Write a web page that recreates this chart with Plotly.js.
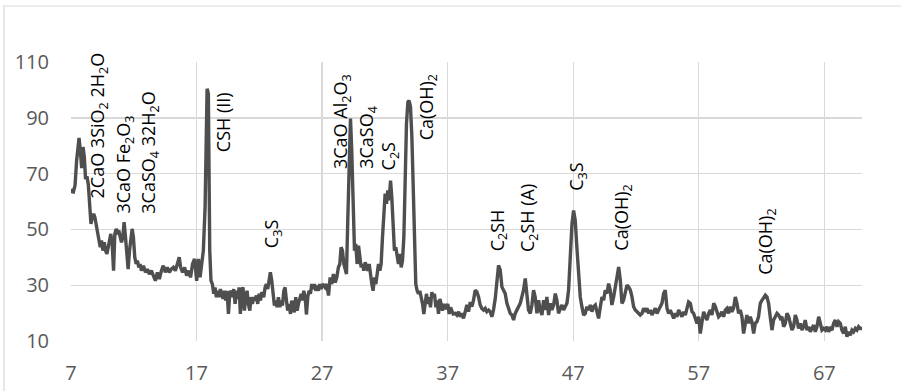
<!DOCTYPE html>
<html>
<head>
<meta charset="utf-8">
<script src="https://cdn.plot.ly/plotly-3.0.1.min.js"></script>
<style>
  html, body { margin: 0; padding: 0; background: #ffffff; }
  #chart { width: 901px; height: 391px; }
</style>
</head>
<body>
<div id="chart"></div>
<script>
// 2-theta (degrees)
var twoTheta = [
  7.00,7.10,7.19,7.32,7.45,7.58,7.64,7.74,7.85,7.96,8.06,8.16,8.27,8.38,8.48,8.59,8.69,8.80,8.90,9.01,
  9.12,9.22,9.33,9.43,9.54,9.65,9.75,9.86,9.96,10.07,10.17,10.28,10.39,10.49,10.60,10.70,10.81,10.92,11.02,11.13,
  11.23,11.34,11.44,11.55,11.66,11.76,11.87,11.97,12.08,12.19,12.29,12.40,12.50,12.61,12.77,12.93,13.08,13.24,13.40,13.56,
  13.72,13.88,14.04,14.20,14.35,14.51,14.67,14.83,14.99,15.15,15.31,15.47,15.62,15.73,15.89,16.05,16.21,16.37,16.52,16.68,
  16.84,
  17.01,17.15,17.28,17.41,17.54,17.68,17.76,17.84,17.94,18.00,18.05,18.15,18.26,18.37,18.47,18.58,18.69,18.79,18.90,19.00,
  19.11,19.22,19.32,19.43,19.54,19.64,19.75,19.85,19.96,20.07,20.17,20.28,20.39,20.49,20.60,20.70,20.81,20.92,21.02,21.13,
  21.24,21.34,21.45,21.55,21.66,21.77,21.87,21.98,22.09,22.19,22.35,22.46,22.56,22.67,22.78,22.88,22.99,23.10,23.20,23.31,
  23.41,23.52,23.63,23.73,23.84,23.95,24.05,24.16,24.26,24.37,24.48,24.58,24.69,24.79,24.90,25.01,25.11,25.22,25.33,25.43,
  25.54,25.65,25.75,25.86,25.96,26.07,26.18,26.28,26.39,26.50,26.60,26.71,26.81,26.92,27.04,
  27.24,27.37,27.51,27.64,27.77,27.90,28.04,28.17,28.30,28.41,28.51,28.62,28.73,28.83,28.94,29.05,29.15,29.26,29.36,29.47,
  29.58,29.68,29.79,29.90,30.00,30.11,30.21,30.32,30.43,30.53,30.64,30.75,30.85,30.96,31.06,31.17,31.28,31.38,31.49,31.60,
  31.70,31.81,31.91,32.02,32.13,32.23,32.34,32.45,32.55,32.66,32.76,32.87,32.98,33.08,33.19,33.30,33.40,33.51,33.61,33.72,
  33.83,33.93,34.04,34.15,34.25,34.36,34.46,34.57,34.68,34.78,34.89,35.00,35.10,35.21,35.31,35.42,35.53,35.63,35.74,35.85,
  35.95,36.06,36.16,36.27,36.38,36.48,36.59,36.70,36.80,36.91,37.01,37.12,37.23,37.33,37.44,
  37.60,37.73,37.87,38.00,38.13,38.26,38.40,38.53,38.66,38.80,38.93,39.06,39.19,39.33,39.46,39.59,39.72,39.86,39.99,40.12,
  40.26,40.39,40.52,40.65,40.79,40.92,41.05,41.19,41.32,41.45,41.58,41.72,41.85,41.98,42.12,42.25,42.38,42.51,42.65,42.78,
  42.91,43.04,43.18,43.31,43.44,43.58,43.71,43.84,43.97,44.11,44.24,44.37,44.51,44.64,44.77,44.90,45.04,45.17,45.30,45.44,
  45.57,45.70,45.83,45.97,46.10,46.23,46.36,46.50,46.63,46.76,46.90,47.03,47.16,47.29,47.43,47.56,47.69,47.83,47.96,
  48.09,48.23,48.36,48.49,48.62,48.76,48.89,49.02,49.16,49.29,49.42,49.55,49.69,49.82,49.95,50.08,50.22,50.35,50.48,50.62,
  50.75,50.88,51.01,51.15,51.28,51.41,51.55,51.68,51.81,51.94,52.08,52.21,52.34,52.48,52.61,52.74,52.87,53.01,53.14,53.27,
  53.40,53.54,53.67,53.80,53.94,54.07,54.20,54.33,54.47,54.60,54.73,54.87,55.00,55.13,55.26,55.40,55.53,55.66,55.80,55.93,
  56.06,56.19,56.33,56.46,56.59,56.73,56.86,56.99,57.12,57.26,57.39,57.52,57.65,57.79,57.92,58.05,58.19,58.32,58.45,58.58,
  58.71,58.84,58.98,59.11,59.24,59.37,59.51,59.64,59.77,59.91,60.04,60.17,60.30,60.44,60.57,60.70,60.83,60.97,61.10,61.23,
  61.37,61.50,61.63,61.76,61.90,62.03,62.16,62.30,62.43,62.56,62.69,62.83,62.96,63.09,63.23,63.36,63.49,63.62,63.76,63.89,
  64.02,64.16,64.29,64.42,64.55,64.69,64.82,64.95,65.09,65.22,65.35,65.48,65.62,65.75,65.88,66.02,66.15,66.28,66.41,66.55,
  66.68,66.81,66.95,67.08,67.21,67.34,67.48,67.61,67.74,67.87,68.01,68.14,68.27,68.40,68.54,68.67,68.80,68.93,69.07,69.20,
  69.33,69.47,69.60,69.73,69.86,70.00
];

// Intensity
var intensity = [
  64.5,63.5,63.4,65.7,74.7,81.9,82.8,78.3,72,79.5,76,68,69,66,57,52,54.4,55.6,54.4,52,
  49.6,47.2,43.6,46,42.4,45.4,42.4,41.2,43.6,46,48.4,44.8,35.2,48.4,50.2,49,49.6,47.2,45.4,47.2,
  52.6,47.2,42.4,35.8,42.4,47.2,50.2,47.2,40,37.6,38.8,36.4,37.6,35.2,37,34.6,35.8,34,35.2,33.4,
  31.6,34.6,32.2,35.2,37,34.6,36.4,34.6,35.8,36.4,35.2,37.6,40,36.4,34.6,36.4,33.4,35.2,32.8,37.6,
  39.4,
  31.6,39.4,32.8,37.6,42.4,58,78.3,100.4,98.6,66.3,42.4,31.6,30.4,26.9,29.2,25.7,28,25.7,28.6,26.9,
  25.1,28,24.5,28,19.7,26.9,28,25.7,28.6,23.3,28,25.1,29.2,19.7,28,29.2,20.9,25.7,28,23.3,
  20.9,25.7,23.3,25.7,24.5,26.3,23.3,26.9,24.5,27.5,25.7,29.2,30.4,28.6,31.6,34.6,31.6,25.7,22.7,24.5,
  22.1,25.7,22.1,24.5,22.7,28,29.2,24.5,20.9,23.3,19.7,24.5,22.1,20.3,25.7,20.9,23.3,25.7,26.9,24.5,
  28,25.7,19.5,25.7,28,26.9,30.4,28.6,30.4,28,29.8,28,30.4,28.6,30.4,
  29.2,30.4,26.3,32.8,30.4,34,31,32.8,36.4,37.6,43.6,42.4,37.6,35.2,34,54.4,78.3,89.7,78.3,54.4,
  42.4,44.8,37.6,44.2,40,36.4,37.6,35.2,38.2,36.4,35.2,37.6,32.8,30.4,28,32.8,30.4,35.2,37.6,35.2,
  37.6,47.2,58,62.8,59.2,64,60.4,67.5,61.6,52,42.4,43.6,40,37.6,41.2,36.4,38.8,47.2,66.3,87.9,
  95.6,96.2,93.9,83.1,66.3,47.2,30.4,28,26.9,28,25.7,23.3,19.7,24.5,26.9,23.3,25.7,22.1,27.5,25.7,
  26.9,22.1,24.5,19.7,25.1,23.3,20.9,23.3,21.5,22.1,23.3,19.7,22.1,20.9,19.7,
  19.9,19.3,20.5,18.7,19.9,18.1,20.5,22.9,20.5,24,22.3,24.6,28.2,27.6,25.8,22.9,21.7,21.1,21.7,20.5,
  21.1,20.5,18.7,21.1,25.2,33,37.1,35.4,29.4,28.2,27,23.5,21.7,19.9,19.3,17.5,19.9,21.1,22.9,23.5,
  25.8,28.2,32.4,27,21.1,19.9,22.9,28.2,25.8,19.9,24.6,21.1,19.3,24.6,21.1,25.8,19.3,23.5,21.1,22.9,
  27,24.6,19.9,21.7,22.9,21.1,22.3,23.5,28.2,40.1,52,56.8,53.2,43.7,33,25.8,22.3,19.3,19.9,
  22.3,21.1,22.9,20.5,22.3,22.9,19.9,18.1,22.3,25.8,24.6,28.2,27,30.6,28.2,22.9,25.8,29.4,33,36.5,
  31.8,23.5,24.6,27,30,29.4,28.2,25.8,22.3,21.1,20.5,19.9,19.3,19.9,21.7,20.5,21.7,19.9,21.1,19.3,
  20.5,21.7,19.9,21.1,22.3,23.5,27,28.2,21.7,19.9,21.1,19.3,18.1,19.9,18.7,21.1,19.9,18.7,20.5,19.3,
  21.7,24,23.5,20.5,19.9,17.5,16.3,18.7,12.7,16.9,20.5,18.7,17.5,19.9,21.1,19.3,23.5,22.3,19.9,18.7,
  19.3,20.5,18.7,21.1,21.7,19.9,22.3,20.5,21.7,25.8,23.5,19.9,21.1,18.7,12.7,16.9,19.3,16.3,18.7,16.9,
  12.7,16.3,16.9,18.7,23.5,24.6,25.8,26.4,25.8,23.5,18.7,13.9,17.5,18.7,19.9,19.3,18.1,18.7,15.1,16.3,
  19.9,18.7,16.3,13.9,15.1,19.3,17.5,14.5,16.3,13.9,15.1,17.5,13.9,15.1,13.3,14.5,15.7,13.3,15.1,18.7,
  15.7,13.9,14.5,13.9,15.1,13.3,14.5,13.9,16.3,17.5,15.1,16.9,16.3,13.9,12.7,15.1,11.5,13.3,12.1,13.9,
  13.3,14.5,13.9,15.1,14.5,14.5
];

// Phase labels and where they sit (2-theta, intensity at label bottom)
var phaseLabels = [
  "2CaO 3SiO<sub>2</sub> 2H<sub>2</sub>O",
  "3CaO Fe<sub>2</sub>O<sub>3</sub>",
  "3CaSO<sub>4</sub> 32H<sub>2</sub>O",
  "CSH (II)",
  "C<sub>3</sub>S",
  "3CaO Al<sub>2</sub>O<sub>3</sub>",
  "3CaSO<sub>4</sub>",
  "C<sub>2</sub>S",
  "Ca(OH)<sub>2</sub>",
  "C<sub>2</sub>SH",
  "C<sub>2</sub>SH (A)",
  "C<sub>3</sub>S",
  "Ca(OH)<sub>2</sub>",
  "Ca(OH)<sub>2</sub>"
];
var phaseX = [9.2, 11.3, 13.3, 19.1, 23.1, 28.55, 30.6, 32.35, 35.4, 41.05, 43.5, 47.35, 50.9, 62.4];
var phaseY = [60.6, 55.3, 55.3, 77.3, 42.8, 71.3, 71.3, 70.7, 81.4, 41.6, 41.6, 63.5, 42.1, 33.2];

var xTickVals = [7, 17, 27, 37, 47, 57, 67];
var yTickVals = [10, 30, 50, 70, 90, 110];

var trace = {
  x: twoTheta,
  y: intensity,
  type: 'scatter',
  mode: 'lines',
  line: { color: '#4f4f4f', width: 3.4 },
  hoverinfo: 'x+y'
};

var annotations = phaseLabels.map(function (t, i) {
  return {
    x: phaseX[i], y: phaseY[i], xref: 'x', yref: 'y',
    text: t, showarrow: false, textangle: -90,
    xanchor: 'center', yanchor: 'bottom', borderpad: 0,
    font: { family: 'Open Sans, sans-serif', size: 18, color: '#000000' }
  };
});

var tickFont = { family: 'Open Sans, sans-serif', size: 20, color: '#595959' };

var layout = {
  width: 901, height: 391,
  margin: { l: 71, r: 39, t: 62, b: 50, pad: 0 },
  paper_bgcolor: '#ffffff', plot_bgcolor: '#ffffff',
  showlegend: false,
  xaxis: {
    range: [7, 70], tickmode: 'array', tickvals: xTickVals,
    showgrid: true, gridcolor: '#d9d9d9', gridwidth: 1.4,
    zeroline: false, showline: false, ticks: '',
    tickfont: tickFont, ticklabelstandoff: 18
  },
  yaxis: {
    range: [10, 110], tickmode: 'array', tickvals: yTickVals,
    showgrid: true, gridcolor: '#d9d9d9', gridwidth: 1.4,
    zeroline: false, showline: false, ticks: '',
    tickfont: tickFont, ticklabelstandoff: 21
  },
  annotations: annotations,
  shapes: [{
    type: 'rect', xref: 'paper', yref: 'paper',
    x0: -0.0847, x1: 1.2, y0: -0.5, y1: 1.2007,
    line: { color: '#d9d9d9', width: 1.2 }, fillcolor: 'rgba(0,0,0,0)', layer: 'below'
  }]
};

Plotly.newPlot('chart', [trace], layout, { displayModeBar: false, staticPlot: true });
</script>
</body>
</html>
